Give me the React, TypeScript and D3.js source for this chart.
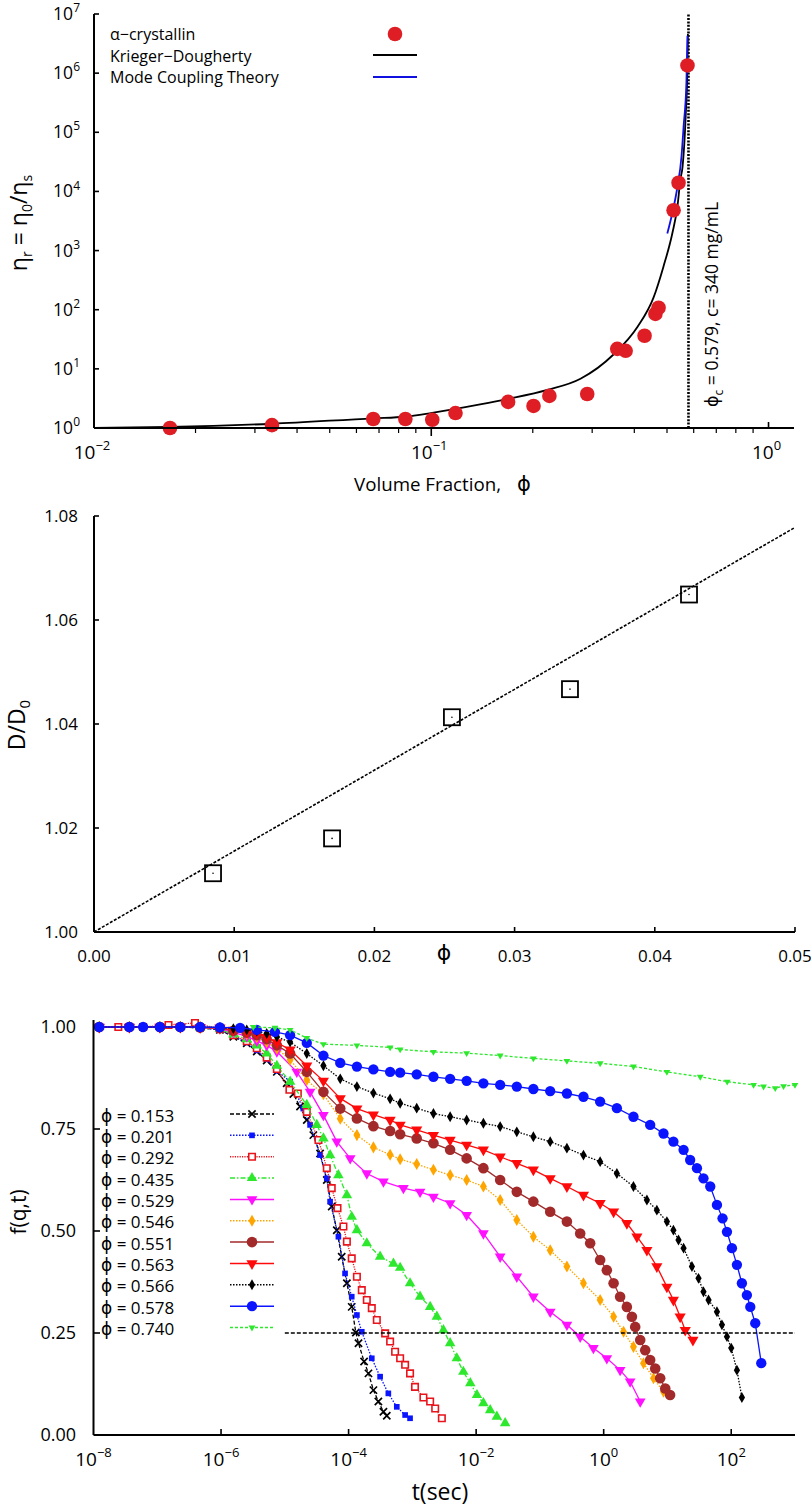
import React from 'react';
import * as d3 from 'd3';

// ---------- top panel: relative viscosity vs volume fraction ----------
const etaPhi = [0.0168, 0.0337, 0.0673, 0.0838, 0.1007, 0.118, 0.169, 0.201, 0.224, 0.29, 0.356, 0.377, 0.429, 0.462, 0.472, 0.523, 0.541, 0.575];
const etaVal = [1.0, 1.12, 1.42, 1.42, 1.38, 1.79, 2.76, 2.36, 3.49, 3.76, 21.8, 20.2, 36.3, 85, 108, 4.8e3, 1.4e4, 1.35e6];

// Krieger-Dougherty curve
const kdPhi = [0.01, 0.0168, 0.0337, 0.0673, 0.0838, 0.1006, 0.1396, 0.169, 0.221, 0.277, 0.347, 0.409, 0.456, 0.488, 0.519, 0.537, 0.548, 0.556, 0.568, 0.575, 0.5767];
const kdEta = [1.0, 1.04, 1.18, 1.46, 1.55, 1.8, 2.5, 3.1, 4.4, 6.8, 17.5, 51.5, 160, 535, 2.0e3, 5.6e3, 1.6e4, 2.6e4, 1.85e5, 1.33e6, 4.6e6];

// Mode coupling theory curve
const mctPhi = [0.501, 0.519, 0.537, 0.552, 0.56, 0.571, 0.575];
const mctEta = [1.94e3, 4.4e3, 1.2e4, 3.9e4, 1.25e5, 7.1e5, 4.3e6];

const phiC = 0.579;
const etaTickExp = [0, 1, 2, 3, 4, 5, 6, 7];
const phiTickExp = [-2, -1, 0];
const legendTop = ['α−crystallin', 'Krieger−Dougherty', 'Mode Coupling Theory'];

// ---------- middle panel: D/D0 vs phi ----------
const dPhi = [0.00849, 0.01698, 0.02553, 0.03395, 0.04244];
const dRatio = [1.0113, 1.018, 1.0413, 1.0467, 1.0649];
const fitPhi = [0, 0.05];
const fitD = [1.0, 1.0778];
const dTicksX = [0, 0.01, 0.02, 0.03, 0.04, 0.05];
const dTicksY = [1.0, 1.02, 1.04, 1.06, 1.08];

// ---------- bottom panel: f(q,t) ----------
const f153 = [[1.23e-8, 1.0], [3.65e-8, 1.0], [1.1e-7, 1.0], [2.3e-7, 1.0], [4.7e-7, 0.998], [9.6e-7, 0.993], [1.56e-6, 0.976], [2.53e-6, 0.96], [3.63e-6, 0.94], [5.2e-6, 0.918], [7.5e-6, 0.89], [1.07e-5, 0.862], [1.36e-5, 0.836], [1.73e-5, 0.805], [2.21e-5, 0.772], [2.8e-5, 0.735], [3.57e-5, 0.69], [4.55e-5, 0.625], [5.44e-5, 0.56], [6.53e-5, 0.502], [7.8e-5, 0.437], [9.4e-5, 0.372], [1.12e-4, 0.314], [1.3e-4, 0.251], [1.43e-4, 0.225], [1.75e-4, 0.18], [2.05e-4, 0.151], [2.45e-4, 0.11], [2.93e-4, 0.082], [3.52e-4, 0.057], [3.97e-4, 0.047]];
const f201 = [[1.23e-8, 1.0], [3.65e-8, 1.0], [1.1e-7, 1.0], [2.3e-7, 1.0], [4.7e-7, 0.998], [9.6e-7, 0.994], [1.56e-6, 0.978], [2.53e-6, 0.962], [3.63e-6, 0.943], [5.2e-6, 0.921], [7.5e-6, 0.893], [1.21e-5, 0.866], [1.95e-5, 0.8], [2.49e-5, 0.76], [3.57e-5, 0.686], [4.55e-5, 0.629], [5.13e-5, 0.572], [6.92e-5, 0.486], [8.8e-5, 0.396], [1.12e-4, 0.339], [1.35e-4, 0.294], [1.61e-4, 0.253], [2.31e-4, 0.188], [3.12e-4, 0.143], [4.2e-4, 0.102], [5.7e-4, 0.069], [7.7e-4, 0.049], [9.2e-4, 0.041]];
const f292 = [[2.45e-8, 1.0], [6.0e-8, 1.0], [1.5e-7, 1.005], [3.9e-7, 1.01], [9.6e-7, 0.995], [1.56e-6, 0.98], [2.53e-6, 0.965], [3.63e-6, 0.948], [5.2e-6, 0.925], [7.5e-6, 0.897], [1.18e-5, 0.846], [1.6e-5, 0.837], [2.21e-5, 0.792], [3.37e-5, 0.723], [4.55e-5, 0.654], [5.44e-5, 0.605], [6.7e-5, 0.556], [8.3e-5, 0.511], [9.4e-5, 0.474], [1.12e-4, 0.433], [1.35e-4, 0.388], [1.61e-4, 0.355], [1.93e-4, 0.331], [2.31e-4, 0.311], [2.77e-4, 0.282], [3.74e-4, 0.249], [4.48e-4, 0.229], [5.36e-4, 0.204], [6.43e-4, 0.188], [7.7e-4, 0.172], [9.2e-4, 0.151], [1.1e-3, 0.118], [1.49e-3, 0.092], [1.9e-3, 0.082], [2.28e-3, 0.065], [2.9e-3, 0.041]];
const f435 = [[1.23e-8, 1.0], [3.65e-8, 1.0], [1.1e-7, 1.0], [2.3e-7, 1.0], [4.7e-7, 0.999], [9.6e-7, 0.995], [1.56e-6, 0.982], [2.53e-6, 0.97], [3.63e-6, 0.955], [5.2e-6, 0.935], [7.5e-6, 0.905], [1.21e-5, 0.866], [2.21e-5, 0.809], [3.17e-5, 0.76], [4.03e-5, 0.727], [5.13e-5, 0.686], [6.92e-5, 0.637], [9.4e-5, 0.588], [1.12e-4, 0.535], [1.35e-4, 0.502], [1.93e-4, 0.47], [3.12e-4, 0.437], [5.05e-4, 0.42], [6.43e-4, 0.41], [9.2e-4, 0.372], [1.32e-3, 0.339], [1.9e-3, 0.314], [2.42e-3, 0.29], [3.07e-3, 0.257], [3.91e-3, 0.225], [4.98e-3, 0.188], [6.3e-3, 0.155], [8.1e-3, 0.127], [1.03e-2, 0.098], [1.3e-2, 0.078], [1.66e-2, 0.061], [2.11e-2, 0.045], [2.85e-2, 0.029]];
const f529 = [[1.23e-8, 1.0], [3.65e-8, 1.0], [1.1e-7, 1.0], [2.3e-7, 1.0], [4.7e-7, 0.999], [9.6e-7, 0.996], [1.56e-6, 0.987], [2.53e-6, 0.977], [3.63e-6, 0.966], [5.2e-6, 0.955], [7.5e-6, 0.94], [1.54e-5, 0.89], [2.49e-5, 0.841], [4.03e-5, 0.784], [6.53e-5, 0.719], [1.06e-4, 0.678], [1.93e-4, 0.641], [3.52e-4, 0.621], [7.24e-4, 0.605], [1.32e-3, 0.596], [2.14e-3, 0.584], [3.91e-3, 0.568], [7.1e-3, 0.539], [1.3e-2, 0.494], [2.38e-2, 0.437], [4.34e-2, 0.388], [7.9e-2, 0.339], [0.145, 0.302], [0.265, 0.27], [0.428, 0.241], [0.69, 0.213], [1.12, 0.188], [1.81, 0.159], [2.6, 0.131], [3.74, 0.082]];
const f546 = [[1.23e-8, 1.0], [3.65e-8, 1.0], [1.1e-7, 1.0], [2.3e-7, 1.0], [4.7e-7, 0.999], [9.6e-7, 0.997], [1.56e-6, 0.99], [2.53e-6, 0.983], [3.63e-6, 0.975], [5.2e-6, 0.963], [7.5e-6, 0.947], [1.21e-5, 0.92], [2.21e-5, 0.87], [4.03e-5, 0.835], [7.4e-5, 0.775], [1.35e-4, 0.735], [2.45e-4, 0.705], [4.48e-4, 0.687], [6.43e-4, 0.676], [1.17e-3, 0.664], [2.14e-3, 0.65], [3.91e-3, 0.637], [7.1e-3, 0.625], [1.3e-2, 0.609], [2.38e-2, 0.576], [4.34e-2, 0.527], [7.9e-2, 0.486], [0.145, 0.453], [0.265, 0.413], [0.482, 0.372], [0.88, 0.331], [1.43, 0.29], [2.05, 0.253], [2.93, 0.216], [4.21, 0.176], [6.04, 0.139], [8.67, 0.106]];
const f551 = [[1.23e-8, 1.0], [3.65e-8, 1.0], [1.1e-7, 1.0], [2.3e-7, 1.0], [4.7e-7, 0.999], [9.6e-7, 0.997], [1.56e-6, 0.991], [2.53e-6, 0.986], [3.63e-6, 0.98], [5.2e-6, 0.97], [7.5e-6, 0.955], [1.21e-5, 0.935], [2.21e-5, 0.89], [4.03e-5, 0.841], [7.4e-5, 0.8], [1.35e-4, 0.776], [2.45e-4, 0.757], [4.48e-4, 0.745], [6.43e-4, 0.737], [1.17e-3, 0.727], [2.14e-3, 0.715], [3.91e-3, 0.699], [7.1e-3, 0.678], [1.3e-2, 0.654], [2.38e-2, 0.625], [4.34e-2, 0.596], [7.9e-2, 0.572], [0.145, 0.547], [0.265, 0.523], [0.428, 0.494], [0.614, 0.47], [0.88, 0.429], [1.12, 0.404], [1.43, 0.372], [1.81, 0.339], [2.31, 0.314], [2.77, 0.29], [3.12, 0.265], [3.74, 0.233], [4.48, 0.208], [5.36, 0.184], [6.43, 0.163], [7.69, 0.139], [9.23, 0.114], [11.0, 0.098]];
const f563 = [[1.23e-8, 1.0], [3.65e-8, 1.0], [1.1e-7, 1.0], [2.3e-7, 1.0], [4.7e-7, 0.999], [9.6e-7, 0.998], [1.56e-6, 0.993], [2.53e-6, 0.988], [3.63e-6, 0.984], [5.2e-6, 0.975], [7.5e-6, 0.962], [1.21e-5, 0.944], [2.21e-5, 0.905], [4.03e-5, 0.868], [7.4e-5, 0.825], [1.35e-4, 0.8], [2.45e-4, 0.785], [4.48e-4, 0.772], [6.43e-4, 0.76], [1.17e-3, 0.748], [2.14e-3, 0.735], [3.91e-3, 0.723], [7.1e-3, 0.711], [1.3e-2, 0.699], [2.38e-2, 0.682], [4.34e-2, 0.666], [7.9e-2, 0.65], [0.145, 0.629], [0.265, 0.609], [0.482, 0.588], [0.88, 0.568], [1.43, 0.547], [2.31, 0.519], [3.32, 0.486], [4.76, 0.453], [6.82, 0.413], [9.8, 0.363], [12.4, 0.331], [15.8, 0.29], [19.0, 0.257], [25.1, 0.233]];
const f566 = [[1.23e-8, 1.0], [3.65e-8, 1.0], [1.1e-7, 1.0], [2.3e-7, 1.0], [4.7e-7, 1.0], [9.6e-7, 0.999], [1.56e-6, 0.996], [2.53e-6, 0.993], [3.63e-6, 0.99], [5.2e-6, 0.984], [7.5e-6, 0.976], [1.21e-5, 0.963], [2.21e-5, 0.935], [4.03e-5, 0.905], [7.4e-5, 0.873], [1.35e-4, 0.854], [2.45e-4, 0.838], [4.48e-4, 0.824], [6.43e-4, 0.813], [1.17e-3, 0.801], [2.14e-3, 0.788], [3.91e-3, 0.78], [7.1e-3, 0.772], [1.3e-2, 0.764], [2.38e-2, 0.756], [4.34e-2, 0.743], [7.9e-2, 0.731], [0.145, 0.719], [0.265, 0.703], [0.482, 0.686], [0.88, 0.67], [1.61, 0.641], [2.93, 0.609], [4.76, 0.576], [6.82, 0.551], [9.8, 0.523], [12.4, 0.502], [14.9, 0.478], [17.9, 0.458], [24.2, 0.413], [30.7, 0.384], [36.7, 0.351], [44.1, 0.331], [59.7, 0.302], [71.5, 0.27], [85.7, 0.241], [100, 0.213], [122.8, 0.159], [147, 0.092]];
const f578 = [[1.23e-8, 1.0], [3.65e-8, 1.0], [6.0e-8, 1.0], [1.1e-7, 1.0], [2.3e-7, 1.0], [4.7e-7, 1.0], [9.6e-7, 0.999], [1.99e-6, 0.998], [3.63e-6, 0.993], [7.0e-6, 0.988], [1.21e-5, 0.98], [2.21e-5, 0.961], [4.03e-5, 0.93], [7.4e-5, 0.912], [1.35e-4, 0.903], [2.45e-4, 0.896], [4.48e-4, 0.89], [6.43e-4, 0.888], [1.17e-3, 0.884], [2.14e-3, 0.878], [3.91e-3, 0.873], [7.1e-3, 0.868], [1.3e-2, 0.862], [2.38e-2, 0.858], [4.34e-2, 0.854], [7.9e-2, 0.848], [0.145, 0.843], [0.265, 0.837], [0.482, 0.829], [0.88, 0.817], [1.61, 0.801], [2.93, 0.78], [5.36, 0.76], [8.67, 0.739], [12.4, 0.719], [17.9, 0.699], [22.7, 0.674], [29.0, 0.654], [36.7, 0.629], [46.9, 0.609], [59.7, 0.564], [73.1, 0.531], [85.7, 0.498], [102.6, 0.458], [122.8, 0.417], [147, 0.372], [176, 0.343], [199, 0.314], [238, 0.274], [296, 0.176]];
const f740 = [[3.2e-6, 1.0], [7.0e-6, 0.998], [1.21e-5, 0.993], [2.21e-5, 0.973], [4.03e-5, 0.958], [1.35e-4, 0.955], [4.48e-4, 0.95], [6.43e-4, 0.945], [2.14e-3, 0.939], [7.1e-3, 0.936], [2.38e-2, 0.93], [7.9e-2, 0.923], [0.265, 0.917], [0.88, 0.911], [2.93, 0.903], [9.8, 0.89], [32.7, 0.878], [86.5, 0.866], [224, 0.858], [321, 0.854], [490, 0.85], [661, 0.855], [1000, 0.858]];

const fSeries = [f153, f201, f292, f435, f529, f546, f551, f563, f566, f578, f740];
const phiLabels = ['0.153', '0.201', '0.292', '0.435', '0.529', '0.546', '0.551', '0.563', '0.566', '0.578', '0.740'];
const tTickExp = [-8, -6, -4, -2, 0, 2];
const fTicks = [0, 0.25, 0.5, 0.75, 1.0];
const fCut = 0.25;

// styles, one per series
const LIME = '#2ee82e';
const styles = [
  { color: '#000', dash: '4,2', shape: d3.symbolTimes, size: 36, fill: 'none', stroke: '#000', sw: 1.7, rot: 0 },
  { color: '#0a14ff', dash: '1.5,1.5', shape: d3.symbolSquare, size: 32, fill: '#0a14ff', stroke: 'none', sw: 0, rot: 0 },
  { color: '#e8141c', dash: '1.2,1.2', shape: d3.symbolSquare, size: 42, fill: '#fff', stroke: '#e8141c', sw: 1.6, rot: 0 },
  { color: LIME, dash: '5,2,1.5,2', shape: d3.symbolTriangle, size: 48, fill: LIME, stroke: 'none', sw: 0, rot: 0 },
  { color: '#ff10ff', dash: null, shape: d3.symbolTriangle, size: 50, fill: '#ff10ff', stroke: 'none', sw: 0, rot: 180 },
  { color: '#ffa500', dash: '1.5,1.5', shape: d3.symbolDiamond, size: 42, fill: '#ffa500', stroke: 'none', sw: 0, rot: 0 },
  { color: '#a32a2a', dash: null, shape: d3.symbolCircle, size: 88, fill: '#a32a2a', stroke: 'none', sw: 0, rot: 0 },
  { color: '#ff0a0a', dash: null, shape: d3.symbolTriangle, size: 54, fill: '#ff0a0a', stroke: 'none', sw: 0, rot: 180 },
  { color: '#000', dash: '1.5,1.5', shape: d3.symbolDiamond, size: 34, fill: '#000', stroke: 'none', sw: 0, rot: 0 },
  { color: '#0a14ff', dash: null, shape: d3.symbolCircle, size: 84, fill: '#0a14ff', stroke: 'none', sw: 0, rot: 0 },
  { color: LIME, dash: '3,2', shape: d3.symbolTriangle, size: 20, fill: LIME, stroke: 'none', sw: 0, rot: 180 },
];

const FONT = '"Open Sans", "DejaVu Sans", sans-serif';

function Marker({ x, y, s }: any) {
  const d = d3.symbol().type(s.shape).size(s.size)() as string;
  return (
    <path
      d={d}
      transform={`translate(${x},${y}) rotate(${s.rot})`}
      fill={s.fill}
      stroke={s.stroke}
      strokeWidth={s.sw}
    />
  );
}

function Pow({ x, y, exp, anchor = 'middle', size = 18, supSize = 13 }: any) {
  const e = exp < 0 ? `−${-exp}` : `${exp}`;
  return (
    <text x={x} y={y} textAnchor={anchor} fontSize={size}>
      10<tspan dy={-size * 0.45} fontSize={supSize}>{e}</tspan>
    </text>
  );
}

export default function App() {
  // scales
  const x1 = d3.scaleLog().domain([0.01, 1.19]).range([94, 794]);
  const y1 = d3.scaleLog().domain([1, 1e7]).range([428, 14]);
  const x2 = d3.scaleLinear().domain([0, 0.05]).range([94, 795]);
  const y2 = d3.scaleLinear().domain([1.0, 1.08]).range([932, 516]);
  const x3 = d3.scaleLog().domain([1e-8, 1e3]).range([93.5, 795]);
  const y3 = d3.scaleLinear().domain([0, 1]).range([1435, 1027]);

  const kdLine = d3.line<number>().x((d) => x1(d)).y((_, i) => y1(kdEta[i])).curve(d3.curveMonotoneX);
  const mctLine = d3.line<number>().x((d) => x1(d)).y((_, i) => y1(mctEta[i])).curve(d3.curveMonotoneX);
  const fitLine = d3.line<number>().x((d) => x2(d)).y((_, i) => y2(fitD[i]));
  const fLine = d3.line<number[]>().x((d) => x3(d[0])).y((d) => y3(d[1]));

  const minor1 = x1.ticks().filter((v) => Math.abs(Math.log10(v) - Math.round(Math.log10(v))) > 1e-6);

  const legRowY = (i: number) => 1115 + i * 21.35;

  return (
    <svg
      width={811}
      height={1507}
      style={{ position: 'absolute', left: 0, top: 0, background: '#fff' }}
      fontFamily={FONT}
    >
      {/* ================= TOP PANEL ================= */}
      <g>
        {/* phi_c line */}
        <line x1={x1(phiC)} x2={x1(phiC)} y1={y1(1)} y2={y1(1e7)} stroke="#000" strokeWidth={2.6} strokeDasharray="2,1.4" />
        <path d={kdLine(kdPhi) as string} fill="none" stroke="#000" strokeWidth={1.8} />
        <path d={mctLine(mctPhi) as string} fill="none" stroke="#1010e0" strokeWidth={1.8} />
        {etaPhi.map((p, i) => (
          <circle key={i} cx={x1(p)} cy={y1(etaVal[i])} r={7.3} fill="#de1d25" />
        ))}
        {/* axes */}
        <line x1={94} x2={94} y1={y1(1e7)} y2={y1(1)} stroke="#000" strokeWidth={2} />
        <line x1={94} x2={794} y1={y1(1)} y2={y1(1)} stroke="#000" strokeWidth={2} />
        {etaTickExp.map((e) => (
          <g key={e}>
            <line x1={94} x2={99} y1={y1(10 ** e)} y2={y1(10 ** e)} stroke="#000" strokeWidth={1.6} />
            <Pow x={80} y={y1(10 ** e) + 6} exp={e} anchor="end" size={17.5} supSize={12} />
          </g>
        ))}
        {minor1.map((v) => (
          <line key={v} x1={x1(v)} x2={x1(v)} y1={428} y2={433} stroke="#000" strokeWidth={1.2} />
        ))}
        <line x1={x1(0.1)} x2={x1(0.1)} y1={428} y2={436} stroke="#000" strokeWidth={1.6} />
        <line x1={x1(1)} x2={x1(1)} y1={428} y2={422} stroke="#000" strokeWidth={1.6} />
        {phiTickExp.map((e) => (
          <Pow key={e} x={x1(10 ** e) - 2} y={459} exp={e} size={19} supSize={13} />
        ))}
        <text x={354} y={491} fontSize={19} textLength={147} lengthAdjust="spacingAndGlyphs">Volume Fraction,</text>
        <text x={524} y={491} fontSize={21} textAnchor="middle">ϕ</text>
        <text transform="translate(27,223) rotate(-90)" textAnchor="middle" fontSize={23}>
          η<tspan fontSize={14} dy={5}>r</tspan>
          <tspan dy={-5}> = η</tspan>
          <tspan fontSize={14} dy={5}>0</tspan>
          <tspan dy={-5}>/η</tspan>
          <tspan fontSize={14} dy={5}>s</tspan>
        </text>
        <text transform="translate(718,407) rotate(-90)" fontSize={17.5}>
          ϕ<tspan fontSize={12} dy={5}>c</tspan>
          <tspan dy={-5}> = 0.579, c= 340 mg/mL</tspan>
        </text>
        {/* legend */}
        {legendTop.map((t, i) => (
          <text key={t} x={110} y={40 + i * 21.5} fontSize={16}>{t}</text>
        ))}
        <circle cx={395} cy={34} r={7.3} fill="#de1d25" />
        <line x1={373} x2={417} y1={55} y2={55} stroke="#000" strokeWidth={1.8} />
        <line x1={373} x2={417} y1={77} y2={77} stroke="#1010e0" strokeWidth={1.8} />
      </g>

      {/* ================= MIDDLE PANEL ================= */}
      <g>
        <path d={fitLine(fitPhi) as string} fill="none" stroke="#000" strokeWidth={1.6} strokeDasharray="3,1.6" />
        {dPhi.map((p, i) => (
          <g key={i}>
            <rect x={x2(p) - 8} y={y2(dRatio[i]) - 8} width={16} height={16} fill="none" stroke="#000" strokeWidth={1.8} />
            <circle cx={x2(p)} cy={y2(dRatio[i])} r={0.8} fill="#000" />
          </g>
        ))}
        <line x1={94} x2={94} y1={y2(1.0)} y2={y2(1.08)} stroke="#000" strokeWidth={2} />
        <line x1={94} x2={795} y1={y2(1.0)} y2={y2(1.0)} stroke="#000" strokeWidth={2} />
        {dTicksY.map((v) => (
          <g key={v}>
            {v > 1 && <line x1={94} x2={99} y1={y2(v)} y2={y2(v)} stroke="#000" strokeWidth={1.6} />}
            <text x={78} y={y2(v) + 6} textAnchor="end" fontSize={17}>{v.toFixed(2)}</text>
          </g>
        ))}
        {dTicksX.map((v) => (
          <g key={v}>
            {v > 0 && <line x1={x2(v)} x2={x2(v)} y1={932} y2={927} stroke="#000" strokeWidth={1.6} />}
            <text x={x2(v)} y={962} textAnchor="middle" fontSize={17}>{v.toFixed(2)}</text>
          </g>
        ))}
        <text x={444} y={960} textAnchor="middle" fontSize={22}>ϕ</text>
        <text transform="translate(25,725) rotate(-90)" textAnchor="middle" fontSize={23}>
          D/D<tspan fontSize={15} dy={5}>0</tspan>
        </text>
      </g>

      {/* ================= BOTTOM PANEL ================= */}
      <g>
        {fSeries.map((s, k) => (
          <g key={k}>
            <path
              d={fLine(s) as string}
              fill="none"
              stroke={styles[k].color}
              strokeWidth={1.3}
              strokeDasharray={styles[k].dash || undefined}
            />
            {s.map((d, i) => (
              <Marker key={i} x={x3(d[0])} y={y3(d[1])} s={styles[k]} />
            ))}
          </g>
        ))}
        <line x1={x3(1e-5)} x2={x3(1e3)} y1={y3(fCut)} y2={y3(fCut)} stroke="#000" strokeWidth={1.6} strokeDasharray="4,2" />
        {/* axes */}
        <line x1={93.5} x2={93.5} y1={1020} y2={1435} stroke="#000" strokeWidth={2} />
        <line x1={93.5} x2={795} y1={1435} y2={1435} stroke="#000" strokeWidth={2} />
        {fTicks.map((v) => (
          <g key={v}>
            {v > 0 && v < 1 && <line x1={93.5} x2={100} y1={y3(v)} y2={y3(v)} stroke="#000" strokeWidth={1.6} />}
            <text x={76} y={y3(v) + 6} textAnchor="end" fontSize={18}>{v.toFixed(2)}</text>
          </g>
        ))}
        {tTickExp.map((e) => (
          <g key={e}>
            {e > -8 && <line x1={x3(10 ** e)} x2={x3(10 ** e)} y1={1435} y2={1429} stroke="#000" strokeWidth={1.6} />}
            <Pow x={x3(10 ** e)} y={1466} exp={e} size={19} supSize={13} />
          </g>
        ))}
        <text x={440} y={1500} textAnchor="middle" fontSize={23}>t(sec)</text>
        <text transform="translate(26,1212) rotate(-90)" textAnchor="middle" fontSize={21}>f(q,t)</text>
        {/* legend */}
        {phiLabels.map((p, i) => (
          <g key={p}>
            <text x={101} y={legRowY(i) + 6.5} fontSize={17}>ϕ = {p}</text>
            <line
              x1={230}
              x2={274}
              y1={legRowY(i) - 1}
              y2={legRowY(i) - 1}
              stroke={styles[i].color}
              strokeWidth={1.5}
              strokeDasharray={styles[i].dash || undefined}
            />
            <Marker x={252} y={legRowY(i) - 1} s={styles[i]} />
          </g>
        ))}
      </g>
    </svg>
  );
}
